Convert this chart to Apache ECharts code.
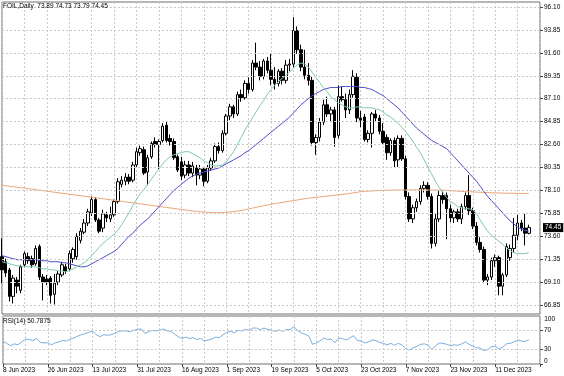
<!DOCTYPE html>
<html><head><meta charset="utf-8">
<script src="https://cdn.jsdelivr.net/npm/echarts@6/dist/echarts.min.js"></script>
<style>html,body{margin:0;padding:0;background:#fff}#c{width:564px;height:376px}</style>
</head><body><div id="c"></div>
<script>
const tickLabels = ['8 Jun 2023','26 Jun 2023','13 Jul 2023','31 Jul 2023','16 Aug 2023','1 Sep 2023','19 Sep 2023','5 Oct 2023','23 Oct 2023','7 Nov 2023','23 Nov 2023','11 Dec 2023'];
const priceTicks = [66.85,69.10,71.35,73.60,75.85,78.10,80.35,82.60,84.85,87.10,89.35,91.60,93.85,96.10];
const rsiTicks = [0,30,70];
const rsiTop = 100;
const rsiLevels = [30,70];

const opens = [71.6,71.1,70.3,67.7,69.3,68.3,70.8,71.6,71.4,70.9,
72.6,69.6,69.4,69.5,67.9,69.1,69.8,70.6,70.4,71.4,
71.6,73.2,74.0,74.9,75.9,77.2,75.2,74.4,75.7,75.3,
75.7,77.0,78.7,79.0,79.4,79.1,80.6,81.8,82.1,79.9,
81.4,82.9,82.6,83.0,84.5,83.2,82.9,81.4,80.9,79.6,
80.6,79.8,80.3,79.6,80.2,79.0,80.3,81.0,82.4,82.0,
83.7,85.4,86.3,85.6,87.5,87.2,88.6,88.0,90.6,90.2,
89.3,90.8,89.9,89.0,88.6,89.8,88.9,90.4,90.5,93.8,
91.9,90.2,89.4,88.9,82.8,83.3,84.8,86.5,85.6,86.0,
83.5,87.3,87.0,86.0,87.5,89.2,85.2,85.3,83.1,83.7,
85.6,85.2,83.9,83.3,81.8,83.0,81.1,83.2,81.2,77.5,
75.3,76.4,77.0,78.3,78.6,77.5,72.9,75.3,77.6,77.6,
76.3,75.4,76.0,75.3,76.5,77.6,76.1,74.6,73.0,72.3,
69.3,69.6,71.2,71.5,68.7,69.8,71.5,72.4,73.7,74.9,
74.4,73.89];
const highs = [73.4,71.4,70.5,69.8,69.6,70.8,72.1,72.0,71.7,72.7,
72.8,69.9,69.8,69.7,69.9,70.2,71.1,70.9,72.2,72.5,
73.9,74.4,75.3,76.3,77.5,77.4,75.4,76.2,76.0,76.5,
77.2,79.3,79.5,79.8,79.7,80.9,82.3,82.5,82.4,81.6,
82.9,83.3,83.1,84.7,84.9,83.6,83.2,81.6,81.4,81.0,
81.0,80.9,80.6,80.6,80.4,80.6,81.3,82.7,82.8,84.0,
85.6,86.6,86.5,87.8,88.0,88.9,89.2,90.9,92.6,90.8,
91.0,91.2,91.5,90.2,90.0,90.1,90.9,91.0,95.1,94.2,
92.4,91.9,90.6,89.3,83.6,85.2,87.0,87.3,86.3,86.3,
88.4,88.3,87.6,88.0,89.9,89.6,85.9,85.6,84.0,85.8,
86.0,85.5,84.7,83.6,83.2,83.3,83.5,83.5,81.5,77.9,
76.7,77.3,78.6,79.0,78.9,77.8,75.8,78.1,78.0,77.9,
76.7,76.2,76.3,76.8,77.9,79.6,76.4,75.0,73.5,72.6,
69.9,71.5,71.8,71.7,70.0,72.9,72.8,75.4,75.7,75.2,
75.8,74.73];
const lows = [69.0,69.6,67.2,67.0,68.0,68.0,70.6,70.9,70.5,70.7,
69.3,67.3,68.8,67.0,66.9,68.8,69.6,69.9,70.2,71.0,
71.3,72.9,73.8,74.6,75.6,75.0,73.9,74.0,75.0,75.0,
75.5,76.8,78.4,78.6,78.7,78.9,80.4,81.5,79.6,78.6,
81.2,82.3,80.1,82.8,82.8,82.5,81.1,79.9,79.1,79.3,
79.5,79.4,78.6,79.2,78.5,78.8,80.0,80.8,81.7,81.8,
83.5,85.0,85.2,85.4,86.8,87.0,87.6,87.8,89.9,88.9,
89.0,89.6,88.4,88.0,88.3,88.5,88.6,89.8,90.2,91.5,
89.8,89.0,88.4,82.5,81.6,82.9,84.5,85.3,84.8,82.4,
83.2,86.8,85.2,85.6,87.2,84.8,84.3,82.9,82.8,82.3,
84.9,83.6,82.6,81.1,81.5,80.3,80.4,81.0,77.2,75.0,
74.9,76.0,76.7,77.9,77.2,72.4,72.6,75.0,76.8,73.3,
75.0,74.9,75.0,74.8,76.2,75.7,74.3,72.7,72.0,69.0,
68.8,69.3,70.6,67.8,67.8,69.6,71.2,72.0,73.2,74.1,
72.7,73.79];
const closes = [70.3,70.0,67.7,69.5,68.7,70.6,71.9,71.2,70.8,72.4,
69.6,69.1,69.1,67.8,69.0,69.9,70.8,70.2,71.9,72.3,
73.6,74.1,74.9,76.0,77.2,75.2,74.1,75.8,75.4,75.7,
77.0,78.95,79.1,79.4,79.0,80.6,81.9,82.2,79.8,81.3,
82.7,82.6,82.9,84.4,83.0,82.9,81.3,80.1,79.5,80.6,
79.8,80.5,79.6,80.2,79.0,80.3,81.0,82.4,82.0,83.7,
85.4,86.3,85.6,87.5,87.2,88.6,88.0,90.6,90.2,89.3,
90.8,89.9,89.0,88.6,89.8,88.9,90.4,90.5,93.8,91.9,
90.2,89.4,88.9,82.8,83.3,84.8,86.5,85.6,86.0,83.3,
87.3,87.0,86.0,87.5,89.3,85.2,85.0,83.1,83.7,85.6,
85.2,83.9,82.8,81.8,83.0,81.0,83.2,81.2,77.5,75.3,
76.4,77.0,78.3,78.6,77.5,72.9,75.3,77.6,77.2,76.3,
75.4,76.0,75.3,76.5,77.6,76.1,74.6,73.0,72.3,69.3,
69.6,71.2,71.5,68.7,69.8,72.6,72.4,73.7,74.9,74.4,
73.9,74.45];
const maGreen = [71.1,71.0,70.9,70.8,70.7,70.7,70.6,70.6,70.6,70.6,
70.5,70.4,70.4,70.3,70.3,70.2,70.2,70.1,70.2,70.4,
70.6,70.8,71.0,71.3,71.7,72.1,72.5,72.9,73.2,73.5,
73.8,74.2,74.7,75.3,75.9,76.6,77.2,77.8,78.2,78.7,
79.2,79.7,80.2,80.7,81.1,81.4,81.6,81.7,81.8,81.9,
81.9,81.7,81.5,81.3,81.0,80.8,80.6,80.5,80.5,80.6,
80.9,81.4,81.9,82.6,83.3,84.0,84.6,85.2,85.8,86.4,
86.9,87.5,88.0,88.4,88.8,89.1,89.4,89.7,90.1,90.4,
90.6,90.5,90.2,89.7,89.2,88.7,88.2,87.8,87.3,87.0,
86.7,86.5,86.3,86.2,86.2,86.3,86.3,86.2,86.2,86.2,
86.1,86.0,85.8,85.5,85.3,85.0,84.7,84.3,83.9,83.4,
82.9,82.3,81.8,81.1,80.4,79.7,79.0,78.4,77.9,77.4,
77.0,76.8,76.5,76.4,76.3,76.3,76.2,75.8,75.2,74.6,
74.1,73.7,73.4,73.1,72.8,72.5,72.2,72.0,71.9,71.9,
71.9,72.0];
const maBlue = [71.7,71.6,71.5,71.4,71.3,71.3,71.3,71.3,71.3,71.3,
71.2,71.2,71.2,71.1,71.1,71.1,71.0,71.0,70.9,70.8,
70.7,70.6,70.6,70.7,70.9,71.1,71.3,71.5,71.7,71.9,
72.1,72.4,72.8,73.2,73.6,73.9,74.3,74.7,75.0,75.3,
75.7,76.1,76.5,76.9,77.3,77.7,78.1,78.4,78.7,79.0,
79.3,79.5,79.7,79.8,79.9,80.0,80.1,80.2,80.3,80.5,
80.7,80.9,81.1,81.3,81.5,81.8,82.0,82.3,82.6,82.9,
83.2,83.5,83.8,84.1,84.4,84.7,85.0,85.3,85.7,86.1,
86.5,86.8,87.1,87.4,87.6,87.8,88.0,88.1,88.2,88.2,
88.2,88.3,88.3,88.3,88.3,88.3,88.2,88.2,88.1,88.0,
87.8,87.6,87.4,87.1,86.8,86.5,86.2,85.8,85.4,85.0,
84.6,84.2,83.9,83.6,83.3,83.0,82.8,82.6,82.4,82.2,
81.8,81.4,81.0,80.6,80.2,79.8,79.4,79.0,78.5,78.0,
77.5,77.1,76.7,76.3,75.9,75.5,75.1,74.8,74.5,74.3,
74.2,74.1];
const maOrange = [78.60,78.56,78.51,78.46,78.41,78.37,78.32,78.27,78.22,78.17,
78.12,78.07,78.02,77.97,77.92,77.87,77.82,77.78,77.73,77.68,
77.63,77.58,77.53,77.48,77.43,77.38,77.33,77.28,77.23,77.18,
77.13,77.08,77.03,76.98,76.93,76.88,76.83,76.78,76.73,76.68,
76.63,76.58,76.53,76.48,76.43,76.38,76.33,76.28,76.23,76.18,
76.13,76.08,76.04,76.00,75.97,75.95,75.93,75.92,75.92,75.93,
75.95,75.98,76.02,76.07,76.13,76.20,76.28,76.36,76.44,76.52,
76.60,76.67,76.74,76.80,76.86,76.92,76.98,77.04,77.10,77.16,
77.22,77.28,77.33,77.38,77.42,77.46,77.50,77.54,77.58,77.62,
77.66,77.70,77.74,77.80,77.86,77.92,77.97,78.00,78.03,78.05,
78.07,78.09,78.10,78.11,78.12,78.13,78.14,78.14,78.14,78.15,
78.15,78.15,78.15,78.14,78.14,78.14,78.14,78.13,78.12,78.10,
78.08,78.05,78.03,78.00,77.98,77.96,77.95,77.93,77.92,77.90,
77.88,77.87,77.86,77.85,77.84,77.83,77.82,77.82,77.81,77.80,
77.80,77.80];
const rsi = [47,43,38,42,40,46,52,51,49,53,
45,44,44,40,44,46,49,48,52,54,
58,61,63,66,69,61,57,61,60,61,
64,68,69,69,67,70,72,73,64,67,
70,69,70,73,69,68,62,57,53,56,
53,55,51,53,48,50,52,56,55,61,
66,68,65,70,69,72,70,75,75,71,
75,72,70,68,71,68,72,72,78,70,
65,62,58,41,44,48,54,51,52,44,
54,53,50,54,59,49,48,44,46,50,
49,45,43,40,43,39,43,40,32,29,
34,37,41,42,39,30,38,44,43,41,
38,40,39,42,46,41,37,34,33,28,
30,36,37,31,35,42,43,46,50,48,
47,50.79];

const SLOTS = 145;
const categories = [];
(function(){
  const d = new Date(Date.UTC(2023,5,8));
  while (categories.length < SLOTS) {
    const w = d.getUTCDay();
    if (w !== 0 && w !== 6) categories.push(d.toISOString().slice(0,10));
    d.setUTCDate(d.getUTCDate()+1);
  }
})();

const candleData = closes.map((c,i)=>[opens[i], c, lows[i], highs[i]]);
const lastClose = closes[closes.length-1];

const FONT = 'Liberation Sans';
const FS = 6.5;
const gridLine = {color:'#c9c9c9', type:[2,2], width:1};

const chart = echarts.init(document.getElementById('c'), null, {renderer:'canvas'});
chart.setOption({
  animation:false,
  backgroundColor:'#ffffff',
  textStyle:{fontFamily:FONT},
  title:[
    {text:'FOIL,Daily  73.89 74.73 73.79 74.45', left:3, top:3, padding:0,
     textStyle:{fontSize:FS, fontWeight:'normal', color:'#000', fontFamily:FONT}},
    {text:'RSI(14) 50.7875', left:3, top:318, padding:0,
     textStyle:{fontSize:FS, fontWeight:'normal', color:'#000', fontFamily:FONT}}
  ],
  graphic:[
    {type:'text', right:9, top:316, silent:true, z:100,
     style:{text:String(rsiTop), fill:'#000', fontSize:FS, fontFamily:FONT}}
  ],
  grid:[
    {left:2, right:24, top:2, height:312, show:true, borderColor:'#6e6e6e', borderWidth:1},
    {left:2, right:24, top:316, height:48, show:true, borderColor:'#6e6e6e', borderWidth:1}
  ],
  xAxis:[
    {type:'category', gridIndex:0, data:categories, boundaryGap:false,
     axisLine:{show:false}, axisTick:{show:false}, axisLabel:{show:false},
     splitLine:{show:true, interval:(i)=>i%6===0, lineStyle:gridLine}},
    {type:'category', gridIndex:1, data:categories, boundaryGap:false,
     axisLine:{show:false},
     axisTick:{show:true, interval:(i)=>i%12===0, length:3, lineStyle:{color:'#444'}},
     axisLabel:{show:true, interval:(i)=>i%12===0, formatter:(v,i)=>tickLabels[i/12]||'',
       align:'left', margin:3, fontSize:FS, color:'#000', fontFamily:FONT},
     splitLine:{show:true, interval:(i)=>i%6===0, lineStyle:gridLine}}
  ],
  yAxis:[
    {type:'value', gridIndex:0, position:'right', min:65.97, max:96.59, scale:true,
     splitLine:{show:false}, axisLine:{show:false},
     axisTick:{show:true, length:3, customValues:priceTicks, lineStyle:{color:'#444'}},
     axisLabel:{show:true, customValues:priceTicks, formatter:(v)=>v.toFixed(2), margin:4,
       fontSize:FS, color:'#000', fontFamily:FONT}},
    {type:'value', gridIndex:1, position:'right', min:0, max:100,
     splitLine:{show:false}, axisLine:{show:false},
     axisTick:{show:true, length:3, customValues:rsiTicks, lineStyle:{color:'#444'}},
     axisLabel:{show:true, customValues:rsiTicks, hideOverlap:false,
       margin:4, fontSize:FS, color:'#000', fontFamily:FONT,
       formatter:(v)=> v===0 ? '{b|0}' : String(v),
       rich:{b:{fontSize:FS, padding:[0,0,5,0], fontFamily:FONT, color:'#000'}}}}
  ],
  series:[
    {type:'line', name:'hgrid', xAxisIndex:0, yAxisIndex:0, data:[], z:1, silent:true,
     markLine:{silent:true, symbol:['none','none'], label:{show:false}, lineStyle:gridLine,
       data:priceTicks.map(v=>({yAxis:v}))}},
    {type:'line', name:'rsigrid', xAxisIndex:1, yAxisIndex:1, data:[], z:1, silent:true,
     markLine:{silent:true, symbol:['none','none'], label:{show:false}, lineStyle:gridLine,
       data:rsiLevels.map(v=>({yAxis:v}))}},
    {type:'candlestick', name:'FOIL', xAxisIndex:0, yAxisIndex:0, data:candleData, barWidth:3, z:3,
     itemStyle:{color:'#ffffff', color0:'#000000', borderColor:'#000000', borderColor0:'#000000', borderWidth:1},
     markLine:{silent:true, symbol:['none','none'], lineStyle:{color:'rgba(0,0,0,0)', width:0},
       label:{show:true, position:'end', formatter:lastClose.toFixed(2), backgroundColor:'#000', color:'#fff',
         fontSize:FS, padding:[1,2,1,2], distance:3, fontFamily:FONT},
       data:[{yAxis:lastClose}]}},
    {type:'line', name:'MA200', xAxisIndex:0, yAxisIndex:0, data:maOrange, symbol:'none', z:4,
     lineStyle:{color:'#eaa676', width:1}},
    {type:'line', name:'MA30', xAxisIndex:0, yAxisIndex:0, data:maBlue, symbol:'none', z:4,
     lineStyle:{color:'#4f4cc9', width:1}},
    {type:'line', name:'MA14', xAxisIndex:0, yAxisIndex:0, data:maGreen, symbol:'none', z:4,
     lineStyle:{color:'#7fc9a9', width:1}},
    {type:'line', name:'RSI', xAxisIndex:1, yAxisIndex:1, data:rsi, symbol:'none', z:4,
     lineStyle:{color:'#7aaee2', width:1}}
  ]
});
</script></body></html>
